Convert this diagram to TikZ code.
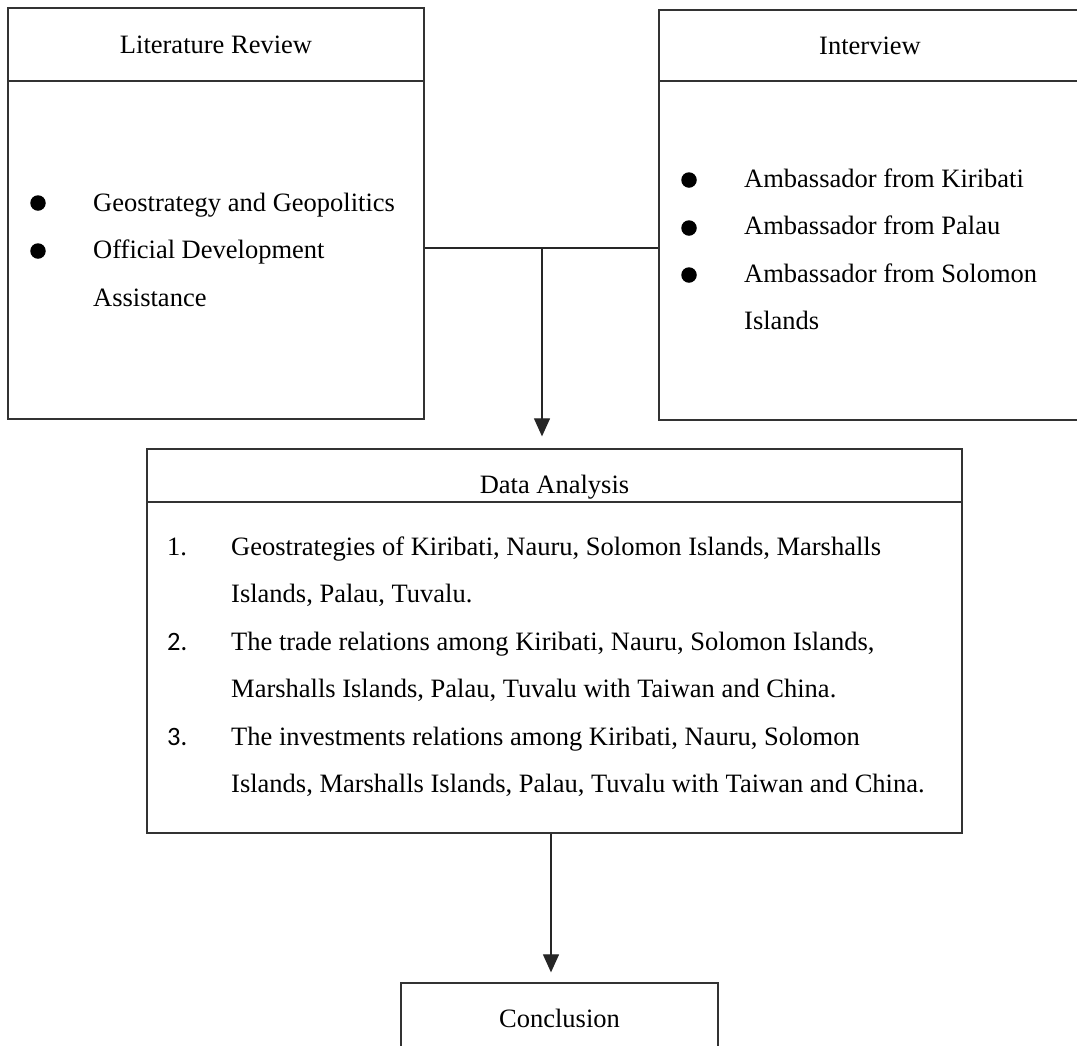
\documentclass[tikz,border=0pt]{standalone}
\usepackage{fontspec}
\setmainfont{Liberation Serif}
\newfontfamily\numfont{Carlito}
\usetikzlibrary{arrows.meta}
\begin{document}
\begin{tikzpicture}[x=1pt,y=-1pt,
  box/.style={draw=black!80, line width=1.3pt, rectangle, inner sep=0pt, fill=none},
  hline/.style={draw=black!80, line width=1.3pt},
  conn/.style={draw=black!85, line width=1.2pt},
  arr/.style={conn, -{Triangle[width=16pt,length=18pt]}},
  txt/.style={anchor=base west, inner sep=0pt, font=\fontsize{26.5}{30}\selectfont},
  ttl/.style={anchor=base, inner sep=0pt, font=\fontsize{26.5}{30}\selectfont},
  dot/.style={circle, fill=black, inner sep=0pt, minimum size=15.5pt}]
\useasboundingbox (0,0) rectangle (1077,1045);
\fill[white] (0,0) rectangle (1077,1045);
% boxes
\node[box, minimum width=416pt, minimum height=411pt] (lit) at (216,213.5) {};
\node[box, minimum width=424pt, minimum height=410pt] (int) at (871,215) {};
\node[box, minimum width=815pt, minimum height=384pt] (da) at (554.5,641) {};
\node[box, minimum width=317pt, minimum height=77pt] (con) at (559.5,1021.5) {};
% header lines
\draw[hline] (8,81) -- (424,81);
\draw[hline] (659,81) -- (1083,81);
\draw[hline] (147,502) -- (962,502);
% titles
\node[ttl] (tlit) at (216,53) {Literature Review};
\node[ttl] (tint) at (870,54) {Interview};
\node[ttl] (tda) at (554.5,493) {Data Analysis};
\node[ttl] (tcon) at (559.5,1027) {Conclusion};
% left list
\node[dot] (bl1) at (38,203) {};
\node[dot] (bl2) at (38,251) {};
\node[txt] (l1) at (93,211) {Geostrategy and Geopolitics};
\node[txt] (l2) at (93,258.5) {Official Development};
\node[txt] (l3) at (93,306) {Assistance};
% right list
\node[dot] (br1) at (689,180) {};
\node[dot] (br2) at (689,228) {};
\node[dot] (br3) at (689,275) {};
\node[txt] (r1) at (744,187) {Ambassador from Kiribati};
\node[txt] (r2) at (744,234.5) {Ambassador from Palau};
\node[txt] (r3) at (744,282) {Ambassador from Solomon};
\node[txt] (r4) at (744,329.5) {Islands};
% data analysis list
\node[txt] (n1) at (167,555) {1.};
\node[txt] (d1) at (231,555) {Geostrategies of Kiribati, Nauru, Solomon Islands, Marshalls};
\node[txt] (d2) at (231,602.5) {Islands, Palau, Tuvalu.};
\node[txt] (n2) at (167,650) {\numfont 2.};
\node[txt] (d3) at (231,650) {The trade relations among Kiribati, Nauru, Solomon Islands,};
\node[txt] (d4) at (231,697.5) {Marshalls Islands, Palau, Tuvalu with Taiwan and China.};
\node[txt] (n3) at (167,745) {\numfont 3.};
\node[txt] (d5) at (231,745) {The investments relations among Kiribati, Nauru, Solomon};
\node[txt] (d6) at (231,792.5) {Islands, Marshalls Islands, Palau, Tuvalu with Taiwan and China.};
% connectors
\coordinate (j) at (542,248);
\coordinate (b) at (551,833);
\draw[conn] (lit.east |- j) -- (int.west |- j);
\draw[arr, shorten >=12pt] (j) -- (da.north -| j);
\draw[arr, shorten >=10pt] (da.south -| b) -- (con.north -| b);
\end{tikzpicture}
\end{document}
